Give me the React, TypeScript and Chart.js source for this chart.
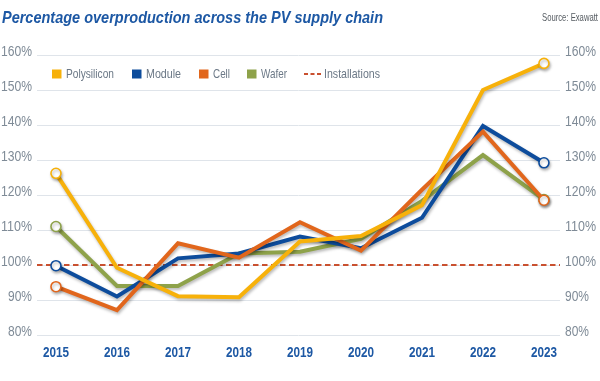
import React, { useEffect, useRef } from "react";
import { Chart, registerables } from "chart.js";

Chart.register(...registerables);

const years = [2015, 2016, 2017, 2018, 2019, 2020, 2021, 2022, 2023];
const polysilicon = [126.2, 99.2, 91.1, 90.8, 106.7, 108.3, 117.1, 150.0, 157.6];
const moduleVals = [99.8, 91.0, 101.9, 103.3, 108.1, 104.8, 113.5, 139.7, 129.2];
const cell = [93.8, 87.1, 106.2, 102.1, 112.2, 104.1, 121.5, 138.1, 118.5];
const wafer = [111.0, 94.0, 94.0, 103.3, 103.8, 107.5, 118.3, 131.4, 118.7];
const installations = 100;
const yTicks = [80, 90, 100, 110, 120, 130, 140, 150, 160];

const TITLE = "Percentage overproduction across the PV supply chain";
const SOURCE = "Source: Exawatt";

const COLORS = {
  polysilicon: "#f7b10a",
  module: "#0d4c9c",
  cell: "#e1661c",
  wafer: "#8ea24a",
  installations: "#c9502f",
  grid: "#dfe4ea",
  tick: "#7f8b97",
  xtick: "#1d58a4",
  title: "#1d58a4",
  legend: "#6b7886",
  source: "#555b61",
};

const FONT = "'Liberation Sans', Arial, sans-serif";

const X_MIN = 2014.689;
const X_MAX = 2023.263;

const legendItems = [
  { label: "Polysilicon", color: COLORS.polysilicon, dash: false },
  { label: "Module", color: COLORS.module, dash: false },
  { label: "Cell", color: COLORS.cell, dash: false },
  { label: "Wafer", color: COLORS.wafer, dash: false },
  { label: "Installations", color: COLORS.installations, dash: true },
];

function series(label: string, vals: number[], color: string) {
  const last = vals.length - 1;
  return {
    label,
    data: vals.map((v, i) => ({ x: years[i], y: v })),
    borderColor: color,
    backgroundColor: "#ffffff",
    borderWidth: 4,
    tension: 0,
    pointRadius: (c: any) => (c.dataIndex === 0 || c.dataIndex === last ? 5 : 0),
    pointBorderWidth: 1.6,
    pointBorderColor: color,
    pointBackgroundColor: "#ffffff",
    pointHoverRadius: 0,
    borderJoinStyle: "miter" as const,
    fill: false,
  };
}

const shadowPlugin = {
  id: "lineShadow",
  beforeDatasetDraw(chart: any, args: any) {
    const ctx = chart.ctx;
    ctx.save();
    if (args.index < 4) {
      ctx.shadowColor = "rgba(0,0,0,0.28)";
      ctx.shadowBlur = 3;
      ctx.shadowOffsetX = 1;
      ctx.shadowOffsetY = 2;
    }
  },
  afterDatasetDraw(chart: any) {
    chart.ctx.restore();
  },
};

const decorPlugin = {
  id: "decor",
  afterDraw(chart: any) {
    const ctx = chart.ctx as CanvasRenderingContext2D;
    const area = chart.chartArea;
    const xs = chart.scales.x;
    const ys = chart.scales.y;
    ctx.save();
    // title
    ctx.fillStyle = COLORS.title;
    ctx.font = `italic bold 17px ${FONT}`;
    ctx.textBaseline = "alphabetic";
    ctx.textAlign = "left";
    ctx.fillText(TITLE, 2, 22.5, 381);
    // source
    ctx.fillStyle = COLORS.source;
    ctx.font = `11px ${FONT}`;
    ctx.textAlign = "right";
    ctx.fillText(SOURCE, 598, 21, 56);
    // y tick labels (both sides)
    ctx.fillStyle = COLORS.tick;
    ctx.font = `14px ${FONT}`;
    ctx.textBaseline = "middle";
    yTicks.forEach((v) => {
      const y = ys.getPixelForValue(v) - 2.5;
      const t = `${v}%`;
      const w = v >= 100 ? 31 : 24;
      ctx.textAlign = "right";
      ctx.fillText(t, area.left - 5, y, w);
      ctx.textAlign = "left";
      ctx.fillText(t, area.right + 5, y, w);
    });
    // x tick labels
    ctx.fillStyle = COLORS.xtick;
    ctx.font = `bold 15px ${FONT}`;
    ctx.textAlign = "center";
    years.forEach((yr) => {
      ctx.fillText(String(yr), xs.getPixelForValue(yr), area.bottom + 17.5, 26);
    });
    // legend
    ctx.font = `13px ${FONT}`;
    ctx.textAlign = "left";
    const lx = [52, 132, 199, 247, 304];
    const lw = [48, 35, 17, 26, 56];
    const ly = area.top + 19;
    legendItems.forEach((it, i) => {
      const x = lx[i];
      ctx.textBaseline = "middle";
      if (it.dash) {
        ctx.strokeStyle = it.color;
        ctx.lineWidth = 2;
        ctx.setLineDash([4, 2.5]);
        ctx.beginPath();
        ctx.moveTo(x, ly);
        ctx.lineTo(x + 17, ly);
        ctx.stroke();
        ctx.setLineDash([]);
        ctx.fillStyle = COLORS.legend;
        ctx.fillText(it.label, x + 20, ly, lw[i]);
      } else {
        ctx.fillStyle = it.color;
        ctx.fillRect(x, ly - 4.5, 9.5, 9);
        ctx.fillStyle = COLORS.legend;
        ctx.fillText(it.label, x + 14, ly, lw[i]);
      }
    });
    ctx.restore();
  },
};

export default function App() {
  const ref = useRef<HTMLCanvasElement | null>(null);

  useEffect(() => {
    if (!ref.current) return;
    const chart = new Chart(ref.current, {
      type: "line",
      data: {
        datasets: [
          series("Polysilicon", polysilicon, COLORS.polysilicon),
          series("Cell", cell, COLORS.cell),
          series("Module", moduleVals, COLORS.module),
          series("Wafer", wafer, COLORS.wafer),
          {
            label: "Installations",
            data: [
              { x: X_MIN, y: installations },
              { x: X_MAX, y: installations },
            ],
            borderColor: COLORS.installations,
            borderWidth: 2,
            borderDash: [5.5, 3.5],
            pointRadius: 0,
            pointHoverRadius: 0,
            fill: false,
          } as any,
        ],
      },
      options: {
        animation: false,
        responsive: false,
        devicePixelRatio: 1,
        layout: { padding: { top: 55, left: 0, right: 0, bottom: 0 } },
        plugins: {
          legend: { display: false },
          title: { display: false },
          tooltip: { enabled: false },
        },
        events: [],
        scales: {
          x: {
            type: "linear",
            min: X_MIN,
            max: X_MAX,
            grid: { display: false, drawTicks: false },
            border: { display: false },
            afterBuildTicks: (s: any) => {
              s.ticks = years.map((v) => ({ value: v }));
            },
            afterFit: (s: any) => {
              s.height = 46;
            },
            ticks: { display: false },
          },
          y: {
            type: "linear",
            position: "left",
            min: 80,
            max: 160,
            afterBuildTicks: (s: any) => {
              s.ticks = yTicks.map((v) => ({ value: v }));
            },
            afterFit: (s: any) => {
              s.width = 37;
            },
            grid: { color: COLORS.grid, lineWidth: 1, drawTicks: false },
            border: { display: false },
            ticks: { display: false },
          },
          y2: {
            type: "linear",
            position: "right",
            min: 80,
            max: 160,
            afterFit: (s: any) => {
              s.width = 40;
            },
            grid: { display: false, drawTicks: false },
            border: { display: false },
            ticks: { display: false },
          },
        },
      } as any,
      plugins: [shadowPlugin, decorPlugin],
    });
    return () => chart.destroy();
  }, []);

  return (
    <div style={{ position: "fixed", left: 0, top: 0, width: 600, height: 381, background: "#ffffff" }}>
      <canvas ref={ref} width={600} height={381} style={{ width: 600, height: 381, display: "block" }} />
    </div>
  );
}
